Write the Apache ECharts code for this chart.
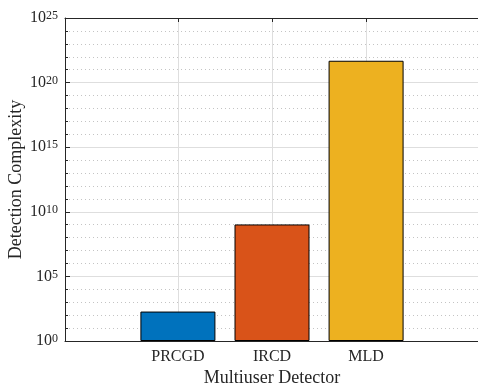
<!DOCTYPE html>
<html>
<head>
<meta charset="utf-8">
<script src="https://cdn.jsdelivr.net/npm/echarts@6/dist/echarts.min.js"></script>
<style>
  html, body { margin: 0; padding: 0; background: #fff; }
  #chart { width: 478px; height: 386px; }
</style>
</head>
<body>
<div id="chart"></div>
<script>
// data
var categories = ['PRCGD', 'IRCD', 'MLD'];
var positions = [1, 2, 3];
var complexity = [190, 1.05e9, 4.9e21];
var barColors = ['#0072BD', '#D95319', '#EDB120'];

var textColor = '#262626';
var font = 'Liberation Serif';

var chart = echarts.init(document.getElementById('chart'));

var barData = [];
for (var i = 0; i < categories.length; i++) {
  barData.push({
    value: [positions[i], complexity[i]],
    itemStyle: { color: barColors[i] }
  });
}

chart.setOption({
  animation: false,
  grid: { left: 65, top: 18, width: 414, height: 323, containLabel: false, outerBoundsMode: 'none' },
  xAxis: [{
    type: 'value',
    min: -0.2,
    max: 4.2,
    name: 'Multiuser Detector',
    nameLocation: 'middle',
    nameGap: 28,
    nameMoveOverlap: false,
    nameTextStyle: { fontFamily: font, fontSize: 18, color: textColor },
    axisLine: { show: true, onZero: false, lineStyle: { color: textColor, width: 1 } },
    axisTick: { show: true, inside: true, length: 4, customValues: positions, lineStyle: { color: textColor } },
    axisLabel: {
      show: true,
      customValues: positions,
      margin: 8,
      fontFamily: font, fontSize: 16, color: textColor,
      formatter: function (v) { return categories[Math.round(v) - 1] || ''; }
    },
    splitLine: { show: false }
  }, {
    type: 'value',
    position: 'top',
    min: -0.2,
    max: 4.2,
    axisLine: { show: true, onZero: false, lineStyle: { color: textColor, width: 1 } },
    axisTick: { show: true, inside: true, length: 4, customValues: positions, lineStyle: { color: textColor } },
    axisLabel: { show: false },
    splitLine: { show: false }
  }],
  yAxis: [{
    type: 'log',
    logBase: 10,
    min: 1,
    max: 1e25,
    interval: 5,
    name: 'Detection Complexity',
    nameLocation: 'middle',
    nameGap: 40,
    nameMoveOverlap: false,
    nameTextStyle: { fontFamily: font, fontSize: 18, color: textColor },
    axisLine: { show: true, onZero: false, lineStyle: { color: textColor, width: 1 } },
    axisTick: { show: true, inside: true, length: 5, lineStyle: { color: textColor } },
    axisLabel: {
      margin: 7,
      color: textColor,
      formatter: function (v) {
        return '{b|10}{s|' + Math.round(Math.log10(v)) + '}';
      },
      rich: {
        b: { fontFamily: font, fontSize: 16, color: textColor, lineHeight: 16, verticalAlign: 'bottom' },
        s: { fontFamily: font, fontSize: 12, color: textColor, lineHeight: 12, verticalAlign: 'top', padding: [0, 0, 10, 0] }
      }
    },
    splitLine: { show: true, lineStyle: { color: '#dedede', width: 1, type: 'solid' } }
  }, {
    type: 'log',
    logBase: 10,
    min: 1,
    max: 1e25,
    interval: 1,
    position: 'left',
    axisLine: { show: false, onZero: false },
    axisTick: { show: true, inside: true, length: 3, lineStyle: { color: textColor } },
    axisLabel: { show: false },
    splitLine: {
      show: true,
      lineStyle: {
        color: ['rgba(0,0,0,0)', '#c4c4c4', '#c4c4c4', '#c4c4c4', '#c4c4c4'],
        width: 1,
        type: [1, 3]
      }
    }
  }],
  series: [{
    type: 'bar',
    xAxisIndex: 0,
    yAxisIndex: 0,
    barWidth: 75,
    data: barData,
    itemStyle: { borderColor: '#000', borderWidth: 1 },
    markLine: {
      silent: true,
      symbol: 'none',
      label: { show: false },
      lineStyle: { color: '#dedede', type: 'solid', width: 1 },
      data: positions.map(function (p) { return { xAxis: p }; }),
      z: 0
    }
  }]
});
</script>
</body>
</html>
